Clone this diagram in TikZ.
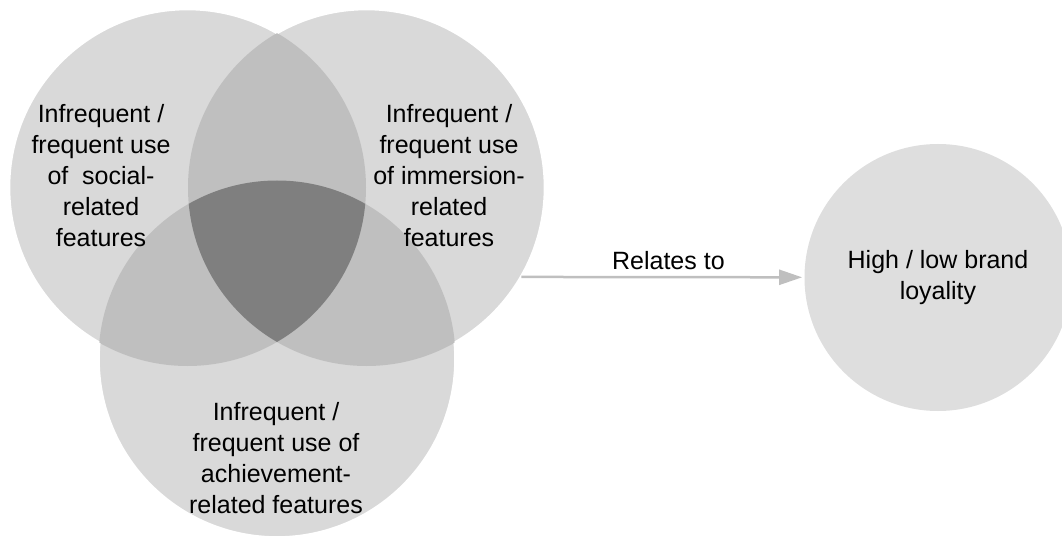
\documentclass[tikz,border=0pt]{standalone}
\usepackage{fontspec}
\setmainfont{Liberation Sans}
\usetikzlibrary{arrows.meta}
\definecolor{vennone}{HTML}{D9D9D9}
\definecolor{venntwo}{HTML}{BFBFBF}
\definecolor{vennthree}{HTML}{7F7F7F}
\definecolor{brandfill}{HTML}{DEDEDE}
\definecolor{linkgray}{HTML}{BFBFBF}
\begin{document}
\begin{tikzpicture}[x=0.5pt,y=-0.5pt,font=\fontsize{12.5}{15.5}\selectfont,line join=round]
\tikzset{vennc/.style={circle,minimum size=178.5pt,inner sep=0pt},
  vtext/.style={align=center,inner sep=0pt},
  link/.style={draw=linkgray,line width=1.25pt,-{Triangle[length=11.5pt,width=7.5pt]},shorten >=1pt}}
\useasboundingbox (0,0) rectangle (1062,540);
\def\vr{178.5}
\node[vennc] (socC) at (187.5,187.5) {};
\node[vennc] (immC) at (366.5,187.5) {};
\node[vennc] (achC) at (277,359) {};
\foreach \c in {socC,immC,achC}
  \fill[vennone] (\c.center) circle (\vr);
\begin{scope}
  \clip (immC.center) circle (\vr);
  \fill[venntwo] (achC.center) circle (\vr);
\end{scope}
\begin{scope}
  \clip (socC.center) circle (\vr);
  \fill[venntwo] (immC.center) circle (\vr);
  \fill[venntwo] (achC.center) circle (\vr);
  \clip (immC.center) circle (\vr);
  \fill[vennthree] (achC.center) circle (\vr);
\end{scope}
% white rims, only outside the other two circles
\foreach \c/\p/\q in {socC/immC/achC,immC/socC/achC,achC/socC/immC}{
  \begin{scope}[even odd rule]
    \clip (-20,-20) rectangle (1100,580) (\p.center) circle (\vr);
    \clip (-20,-20) rectangle (1100,580) (\q.center) circle (\vr);
    \draw[white,line width=1.3pt] (\c.center) circle (\vr);
  \end{scope}}
\node[vtext] (social) at (101,176) {Infrequent /\\frequent use\\of\ \ social-\\related\\features};
\node[vtext] (immersion) at (449,176) {Infrequent /\\frequent use\\of immersion-\\related\\features};
\node[vtext] (achievement) at (276,458) {Infrequent /\\frequent use of\\achievement-\\related features};
\node[circle,fill=brandfill,minimum size=133.5pt,inner sep=0pt,align=center] (loyalty) at (938,277.5) {High / low brand\\loyality};
\draw[link] (immC.-30.7) -- (loyalty) node[pos=0.52,above,inner sep=3pt] (relates) {Relates to};
\end{tikzpicture}
\end{document}
